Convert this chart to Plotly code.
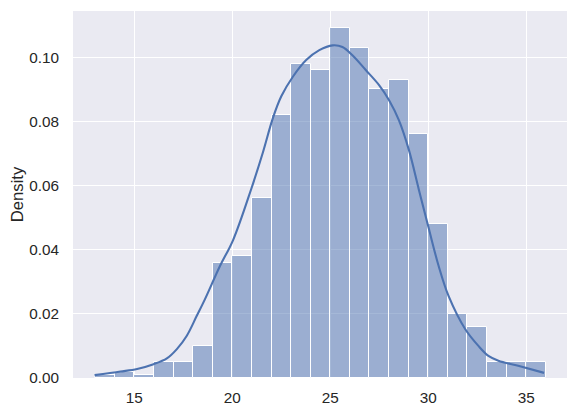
import plotly.graph_objects as go

# Histogram (density) bins: left edges, width 1
bin_left = list(range(13, 36))
density = [0.001, 0.002, 0.001, 0.005, 0.005, 0.010, 0.036, 0.038, 0.056, 0.082,
           0.098, 0.096, 0.109, 0.103, 0.090, 0.093, 0.076, 0.048, 0.020, 0.016,
           0.005, 0.005, 0.005]

# KDE curve points
kde_x = [12.97, 14.29, 15.14, 15.98, 16.66, 17.17, 17.67, 18.18, 18.60, 19.37,
         20.04, 20.97, 21.56, 22.07, 22.5, 23.09, 23.77, 24.44, 25.12,
         25.62, 26.13, 26.81, 27.49, 28.0, 28.5, 29.01, 29.52, 30.03, 30.53,
         31.04, 31.89, 32.56, 33.07, 33.58, 34.59, 35.91]
kde_y = [0.0009, 0.0020, 0.0028, 0.0043, 0.0061, 0.0090, 0.0131, 0.0193, 0.0245, 0.0349,
         0.0430, 0.0590, 0.0703, 0.0810, 0.0878, 0.0939, 0.0991, 0.1022, 0.1037,
         0.1032, 0.1006, 0.0960, 0.0913, 0.0866, 0.0804, 0.0711, 0.0587, 0.0465, 0.0349,
         0.0255, 0.0152, 0.0100, 0.0069, 0.0054, 0.0038, 0.0016]

y_ticks = [0.00, 0.02, 0.04, 0.06, 0.08, 0.10]
x_ticks = [15, 20, 25, 30, 35]

blue = "#4C72B0"

fig = go.Figure()
fig.add_trace(go.Bar(
    x=[b + 0.5 for b in bin_left], y=density, width=1.0,
    marker=dict(color="rgba(76,114,176,0.5)", line=dict(color="white", width=1)),
    hoverinfo="skip", showlegend=False,
))
fig.add_trace(go.Scatter(
    x=kde_x, y=kde_y, mode="lines",
    line=dict(color=blue, width=2.1, shape="spline", smoothing=1.0),
    showlegend=False,
))

tick_font = dict(family="Liberation Sans, Arial, sans-serif", size=15.3, color="#262626")
title_font = dict(family="Liberation Sans, Arial, sans-serif", size=16.7, color="#262626")
# page body has an 8px default margin, so the figure is offset by 8px
fig.update_layout(
    width=570, height=409,
    margin=dict(l=65, r=11, t=3, b=39),
    paper_bgcolor="white", plot_bgcolor="#EAEAF2",
    font=tick_font, bargap=0,
    xaxis=dict(range=[11.87, 37.08], tickvals=x_ticks, showgrid=True, gridcolor="white",
               gridwidth=1, zeroline=False, showline=False, ticks="outside", ticklen=6,
               tickcolor="rgba(0,0,0,0)", tickfont=tick_font, automargin=False),
    yaxis=dict(range=[0, 0.1144], tickvals=y_ticks, tickformat=".2f", showgrid=True,
               gridcolor="white", gridwidth=1, zeroline=False, showline=False,
               ticks="outside", ticklen=10, tickcolor="rgba(0,0,0,0)", tickfont=tick_font,
               automargin=False,
               title=dict(text="Density", font=title_font, standoff=6)),
)

fig.write_html("out.html")
